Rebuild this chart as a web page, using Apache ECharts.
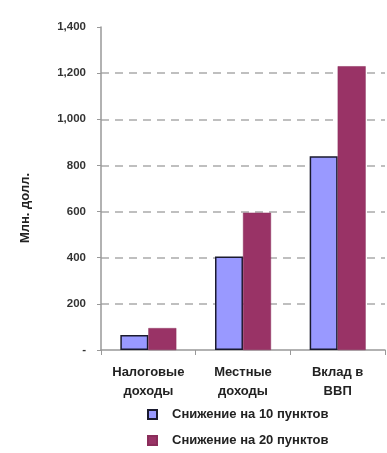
<!DOCTYPE html>
<html>
<head>
<meta charset="utf-8">
<script src="https://cdn.jsdelivr.net/npm/echarts@6/dist/echarts.min.js"></script>
<style>
  html, body { margin: 0; padding: 0; background: #fff; }
  #chart { width: 387px; height: 453px; }
</style>
</head>
<body>
<div id="chart"></div>
<script>
// Categories and the two scenarios (million dollars)
const categories = ['Налоговые\nдоходы', 'Местные\nдоходы', 'Вклад в\nВВП'];
const seriesNames = ['Снижение на 10 пунктов', 'Снижение на 20 пунктов'];
const cut10 = [65, 405, 840];
const cut20 = [95, 595, 1230];
const yAxisName = 'Млн. долл.';

const font = 'Arial, "Liberation Sans", sans-serif';
const chart = echarts.init(document.getElementById('chart'));

chart.setOption({
  animation: false,
  backgroundColor: '#ffffff',
  textStyle: { fontFamily: font },
  grid: { left: 101, right: 2, top: 27, bottom: 103, containLabel: false },
  graphic: [{
    type: 'text',
    x: 25,
    y: 208,
    rotation: Math.PI / 2,
    style: {
      text: yAxisName,
      font: 'bold 13px ' + font,
      fill: '#222',
      align: 'center',
      verticalAlign: 'middle'
    }
  }],
  legend: {
    orient: 'vertical',
    left: 142,
    top: 403,
    itemWidth: 9,
    itemHeight: 9,
    itemGap: 13,
    icon: 'rect',
    textStyle: { fontFamily: font, fontSize: 13, fontWeight: 'bold', color: '#222', padding: [0, 0, 0, 10] },
    data: seriesNames
  },
  xAxis: {
    type: 'category',
    data: categories,
    axisLine: { lineStyle: { color: '#999', width: 1.5 } },
    axisTick: { show: true, length: 5, lineStyle: { color: '#999' } },
    axisLabel: {
      interval: 0,
      margin: 13,
      fontFamily: font,
      fontSize: 13,
      fontWeight: 'bold',
      lineHeight: 19,
      color: '#222'
    }
  },
  yAxis: {
    type: 'value',
    min: 0,
    max: 1400,
    interval: 200,
    axisLine: { show: true, lineStyle: { color: '#999', width: 1.5 } },
    axisTick: { show: true, length: 4, lineStyle: { color: '#999' } },
    axisLabel: {
      margin: 15,
      fontFamily: font,
      fontSize: 11.5,
      fontWeight: 'bold',
      color: '#333',
      formatter: v => v === 0 ? '-' : v.toLocaleString('en-US')
    },
    splitLine: {
      show: true,
      showMinLine: false,
      showMaxLine: false,
      lineStyle: { color: '#aaa', type: [8, 6], width: 1.5 }
    }
  },
  series: [
    {
      name: seriesNames[0],
      type: 'bar',
      data: cut10,
      barWidth: 28,
      barGap: '0%',
      itemStyle: { color: '#9999ff', borderColor: '#1a1a2e', borderWidth: 1.5 }
    },
    {
      name: seriesNames[1],
      type: 'bar',
      data: cut20,
      barWidth: 28,
      itemStyle: { color: '#993366', borderColor: '#8a2d5a', borderWidth: 0.5 }
    }
  ]
});
</script>
</body>
</html>
